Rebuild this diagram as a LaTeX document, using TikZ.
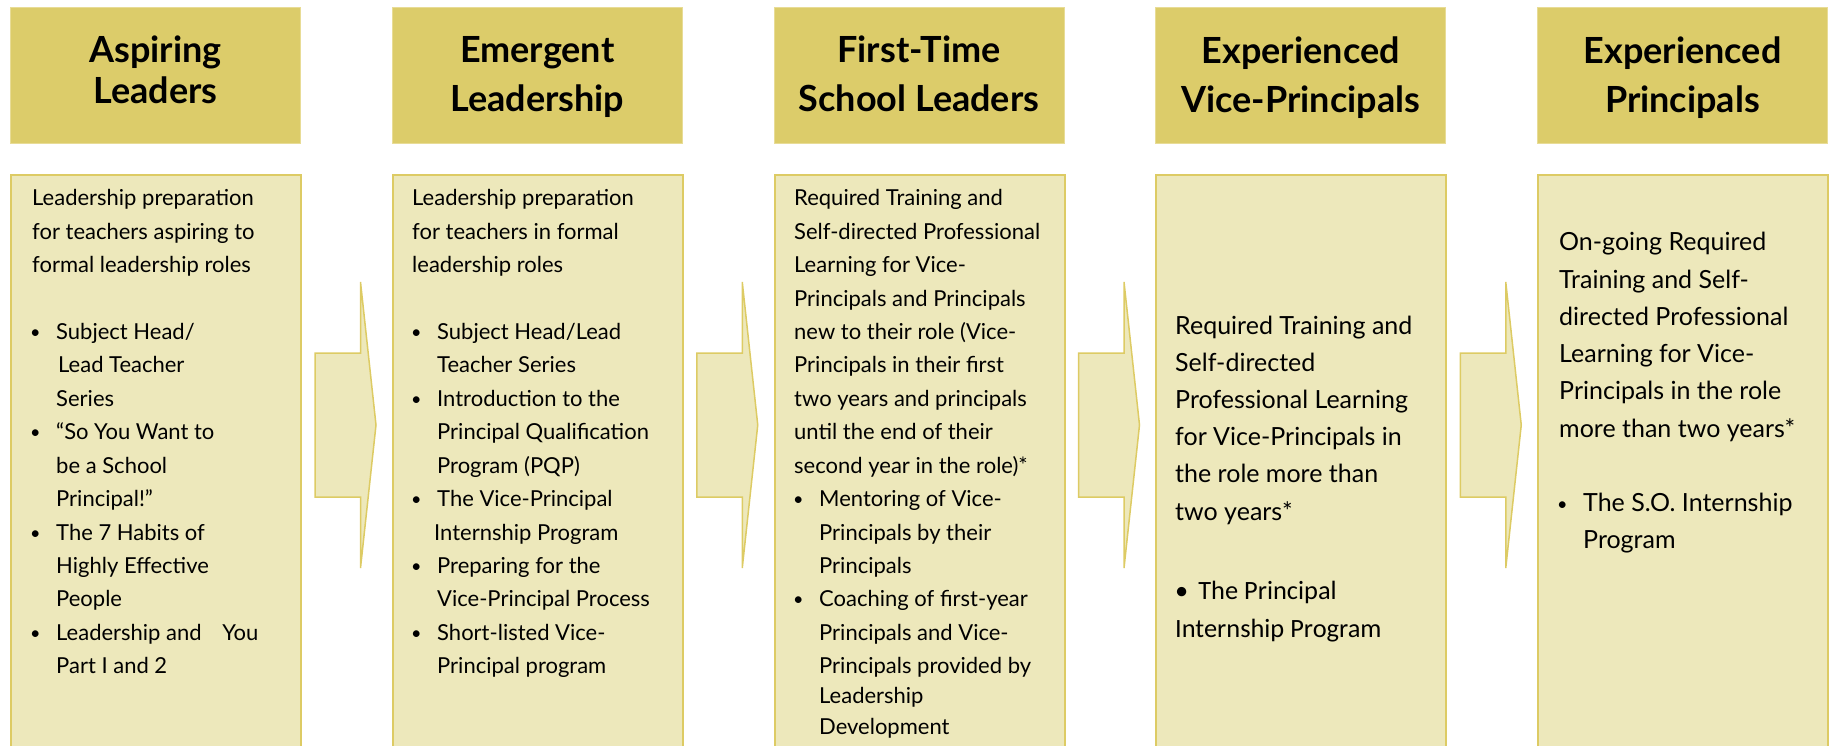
\documentclass[tikz,border=0pt]{standalone}
\usepackage{fontspec}
\setmainfont{Lato}
\newfontfamily\calibri{Carlito}

\definecolor{hdrfill}{RGB}{220,204,106}
\definecolor{hdredge}{RGB}{232,220,150}
\definecolor{bodyfill}{RGB}{237,232,187}
\definecolor{goldline}{RGB}{221,203,100}

% small bullet placed in the hanging margin of an indented block
\newcommand\bul{\leavevmode\llap{\makebox[24pt][l]{\hspace{-2pt}\raisebox{1pt}{\fontsize{18}{18}\selectfont\textbullet}}}}
\newcommand\bodyfont{\fontsize{22}{33.4}\selectfont}
\newcommand\bigbodyfont{\fontsize{25}{37.2}\selectfont}

\begin{document}
\begin{tikzpicture}[x=1pt,y=-1pt,
  hdr/.style={fill=hdrfill, draw=hdredge, line width=1pt, minimum width=290pt,
              minimum height=136pt, anchor=north west, inner sep=0pt},
  panel/.style={fill=bodyfill, draw=goldline, line width=2pt, minimum width=290pt,
                minimum height=600pt, anchor=north west, inner sep=0pt},
  chevron/.style={fill=bodyfill, draw=goldline, line width=1.5pt, line join=miter},
  htext/.style={anchor=base, inner sep=0pt, font=\bfseries},
  btext/.style={anchor=base west, inner sep=0pt}]

\useasboundingbox (0,0) rectangle (1833,746);

% headers and panels, one column every 381.75
\foreach \i [evaluate=\i as \x using 10+381.75*(\i-1)] in {1,...,5}{
  \node[hdr]   (h\i) at (\x,7)   {};
  \node[panel] (p\i) at (\x,174) {};
}

% block arrows between the panels
\foreach \i [evaluate=\i as \x using 315+381.75*(\i-1)] in {1,...,4}{
  \draw[chevron] (\x,353) -- (\x+45.5,353) -- (\x+45.5,282) -- (\x+61,425)
                 -- (\x+45.5,568) -- (\x+45.5,497) -- (\x,497) -- cycle;
}

% header titles
\node[htext] (ht1) at (h1.north |- 0,63)
  {\parbox[t]{290pt}{\centering\fontsize{36}{41}\selectfont Aspiring\\Leaders}};
\node[htext] (ht2) at (h2.north |- 0,63)
  {\parbox[t]{290pt}{\centering\fontsize{36}{49}\selectfont Emergent\\Leadership}};
\node[htext] (ht3) at (h3.north |- 0,63)
  {\parbox[t]{290pt}{\centering\fontsize{36}{49}\selectfont First-Time\\School Leaders}};
\node[htext] (ht4) at (h4.north |- 0,64)
  {\parbox[t]{290pt}{\centering\fontsize{36}{49}\selectfont Experienced\\Vice-Principals}};
\node[htext] (ht5) at (h5.north |- 0,64)
  {\parbox[t]{290pt}{\centering\fontsize{36}{49}\selectfont Experienced\\Principals}};

% column 1
\node[btext] (t1) at (32,206) {\parbox[t]{262pt}{\bodyfont\raggedright
  Leadership preparation\\
  for teachers aspiring to\\
  formal leadership roles\par
  \vspace{33.4pt}
  {\leftskip=24pt
  \bul Subject Head/\\
  \hspace*{2pt}Lead Teacher\\
  Series\par
  \bul “So You Want to\\
  be a School\\
  Principal!”\par
  \bul The 7 Habits of\\
  Highly Effective\\
  People\par
  \bul Leadership and\hspace{15pt} You\\
  Part I and 2\par}}};

% column 2
\node[btext] (t2) at (412,206) {\parbox[t]{262pt}{\bodyfont\raggedright
  Leadership preparation\\
  for teachers in formal\\
  leadership roles\par
  \vspace{33.4pt}
  {\leftskip=25pt
  \bul Subject Head/Lead\\
  Teacher Series\par
  \bul Introduction to the\\
  Principal Qualification\\
  Program (PQP)\par
  \bul The Vice-Principal\\
  \hspace*{-3pt}Internship Program\par
  \bul Preparing for the\\
  Vice-Principal Process\par
  \bul Short-listed Vice-\\
  Principal program\par}}};

% column 3
\node[btext] (t3) at (794,206) {\parbox[t]{262pt}{\bodyfont\raggedright
  Required Training and\\
  Self-directed Professional\\
  Learning for Vice-\\
  Principals and Principals\\
  new to their role (Vice-\\
  Principals in their first\\
  two years and principals\\
  until the end of their\\
  second year in the role)*\par
  {\leftskip=25pt
  \bul Mentoring of Vice-\\
  Principals by their\\
  Principals\par
  \bul Coaching of first-year\\
  Principals and Vice-\\
  Principals provided by\\[-3pt]
  Leadership\\[-3pt]
  Development\par}}};

% column 4
\node[btext] (t4) at (1175,334) {\parbox[t]{262pt}{\bigbodyfont\raggedright
  Required Training and\\
  Self-directed\\
  Professional Learning\\
  for Vice-Principals in\\
  the role more than\\
  two years*\par
  \vspace{41pt}
  {\calibri\fontsize{26.4}{38}\selectfont
  \textbullet\hspace{10pt}The Principal\\
  Internship Program\par}}};

% column 5
\node[btext] (t5) at (1559,251) {\parbox[t]{262pt}{\bigbodyfont\raggedright
  On-going Required\\
  Training and Self-\\
  directed Professional\\
  Learning for Vice-\\
  Principals in the role\\
  more than two years*\par
  \vspace{37.2pt}
  {\leftskip=24pt
  \bul The S.O. Internship\\
  Program\par}}};

\end{tikzpicture}
\end{document}
